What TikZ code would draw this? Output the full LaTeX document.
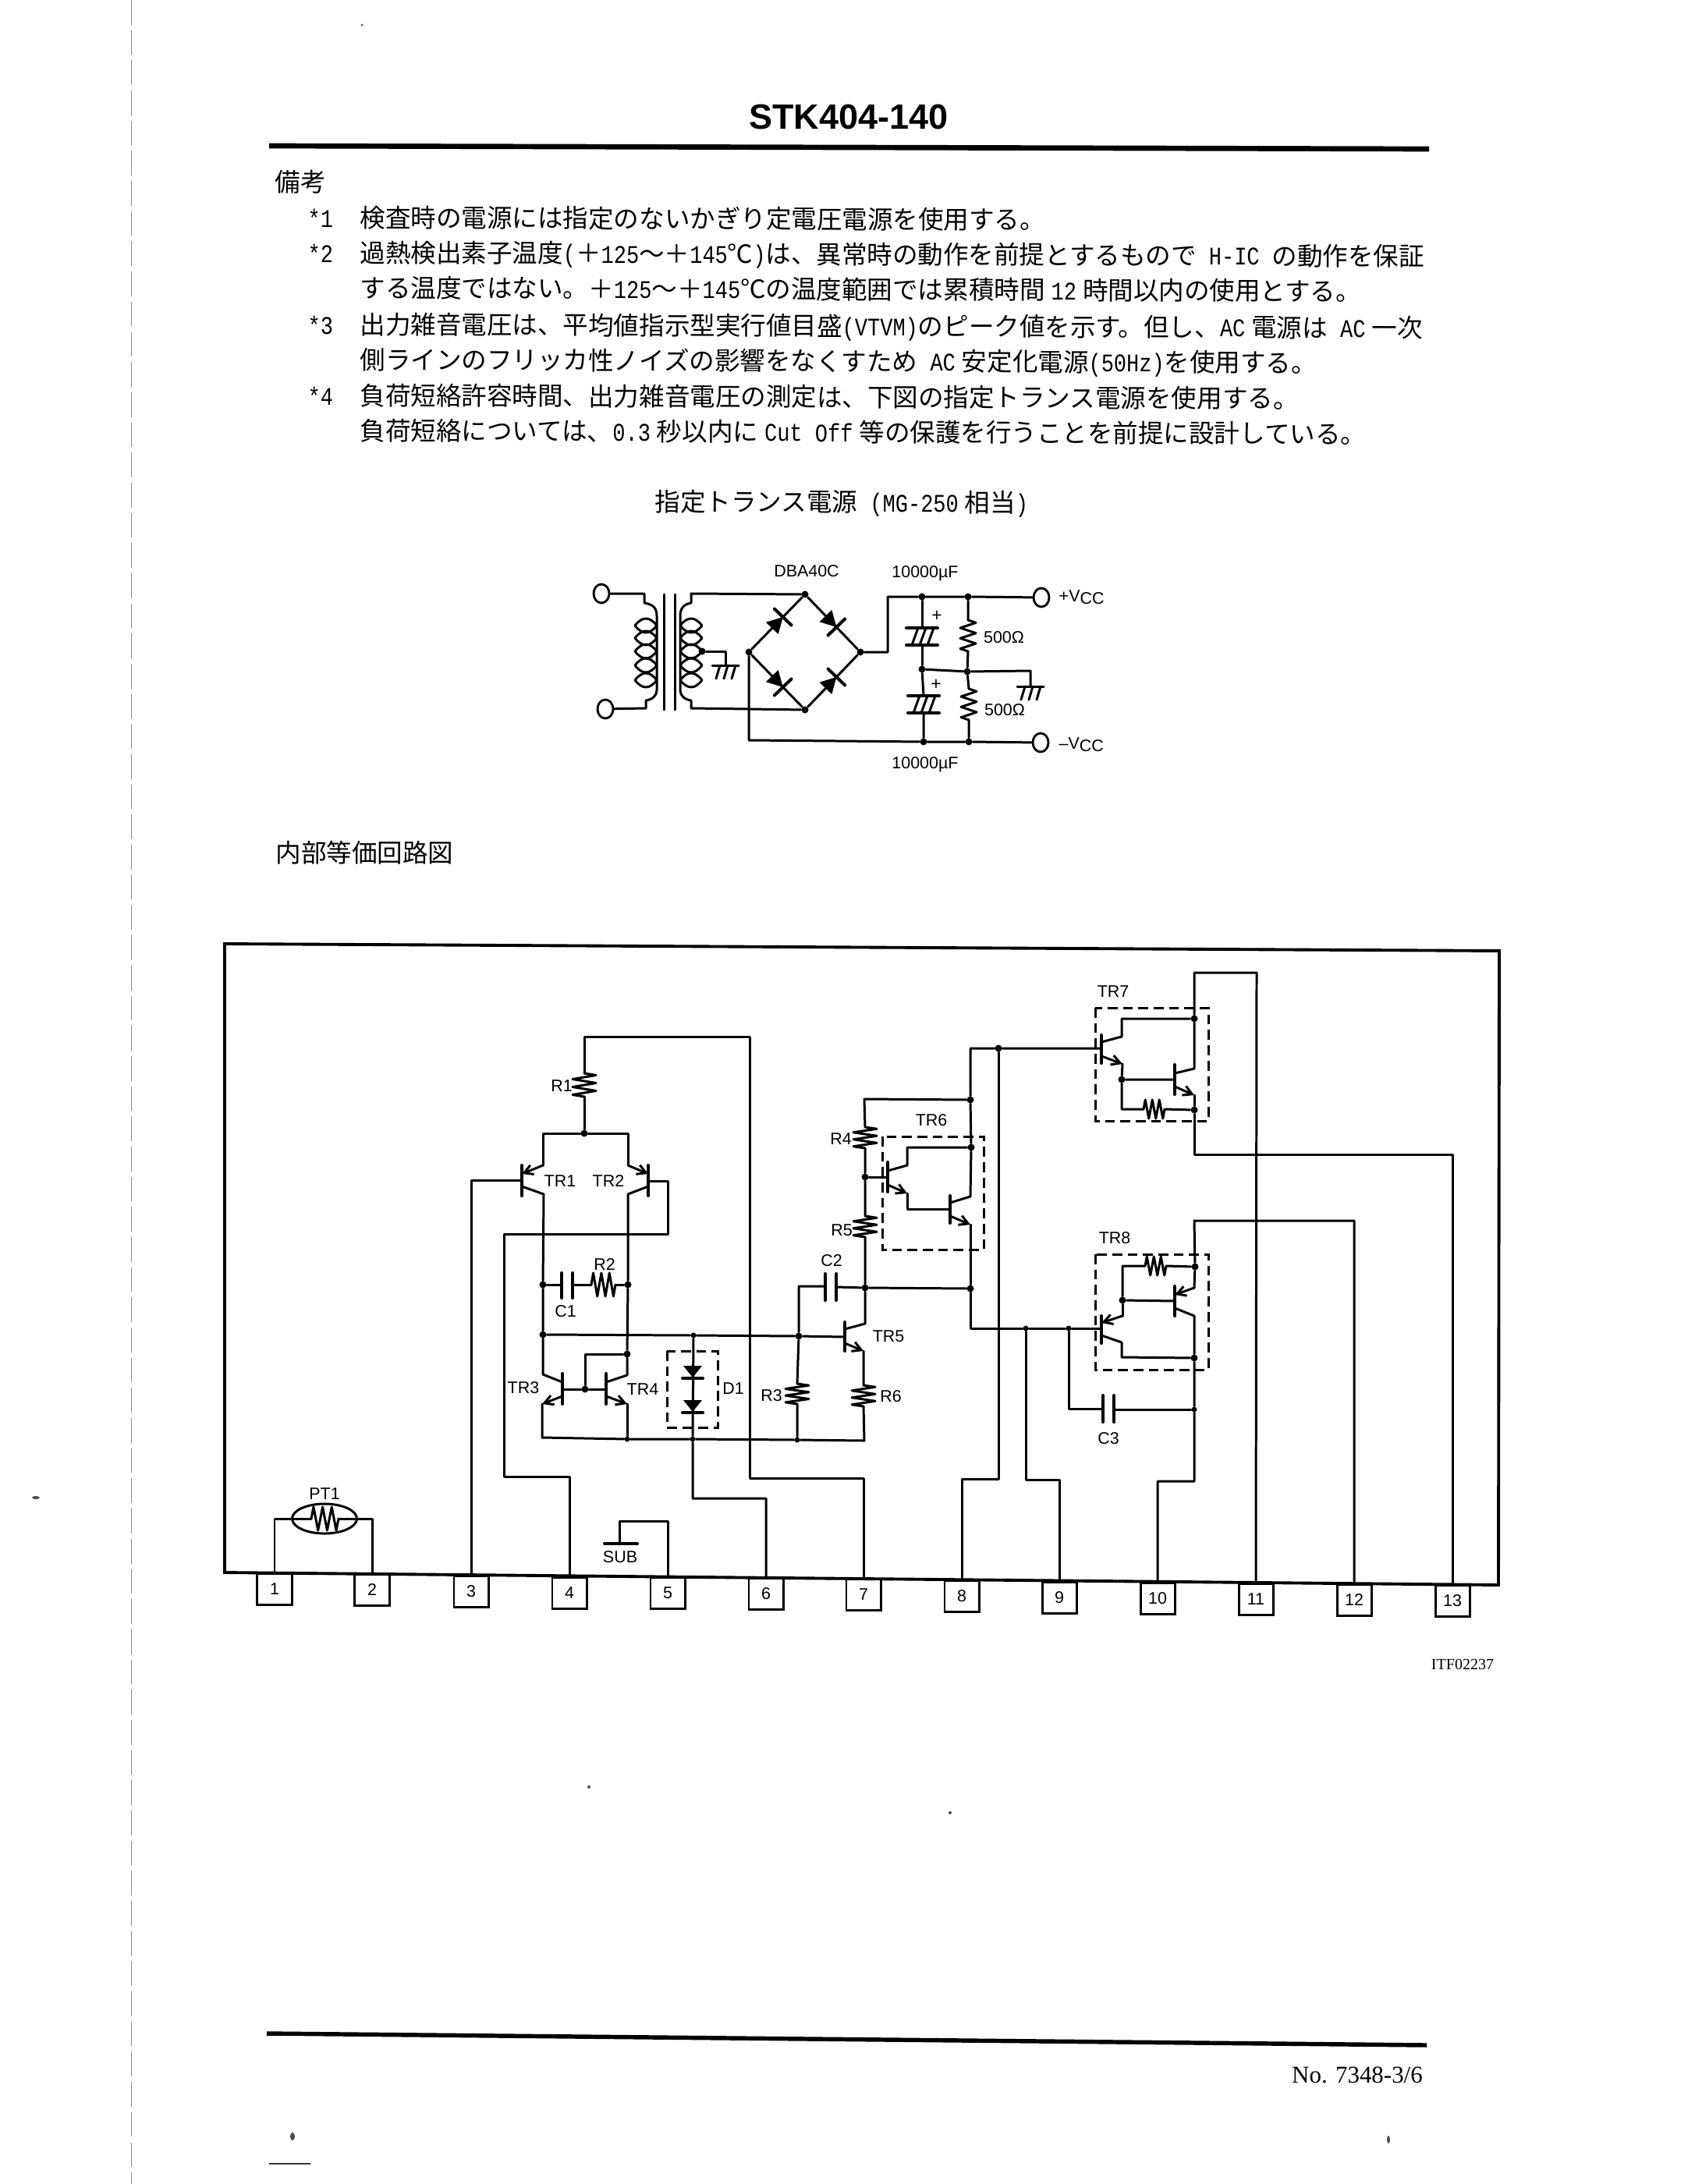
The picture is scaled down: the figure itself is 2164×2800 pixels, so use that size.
\documentclass[tikz,border=0pt]{standalone}
\usepackage{fontspec}
\setmainfont{Liberation Sans}
\newfontfamily\jpf{Noto Sans CJK JP}
\newfontfamily\monof[FakeStretch=0.83]{Liberation Mono}
\newfontfamily\serf{Liberation Serif}
\usetikzlibrary{arrows.meta,shapes.geometric,calc}
\newcommand\ml[1]{{\monof\fontsize{9.25pt}{11pt}\selectfont #1}}
\newcommand\tsp{\hspace{0.08cm}}
\tikzset{
  wire/.style={line width=0.85pt,line cap=round,line join=round},
  barq/.style={line width=1.15pt,line cap=round},
  arr/.style={wire,-{Straight Barb[length=3.2pt,width=3.6pt]}},
  jdot/.style={circle,fill=black,inner sep=0pt,minimum size=0.09cm},
  lab/.style={font=\fontsize{6.1pt}{7pt}\selectfont,inner sep=0pt},
  jl/.style={anchor=base west,inner sep=0pt,rotate=-0.2,font=\jpf\fontsize{9.25pt}{11pt}\selectfont},
  pinbox/.style={draw,line width=0.85pt,minimum width=0.44cm,minimum height=0.40cm,inner sep=0pt,font=\fontsize{6.1pt}{7pt}\selectfont},
  term/.style={draw,ellipse,line width=0.8pt,minimum width=0.2cm,minimum height=0.24cm,inner sep=0pt},
  dashbox/.style={line width=0.85pt,dash pattern=on 3.6pt off 2pt},
  speck/.style={fill=black!70,draw=none}
}
\newcommand\vres[4]{\pgfmathsetmacro\rs{(#3-#2)/12}%
  \draw[wire] (#1,#2) -- ++(#4,\rs) -- ++(-2*#4,2*\rs) -- ++(2*#4,2*\rs) -- ++(-2*#4,2*\rs) -- ++(2*#4,2*\rs) -- ++(-2*#4,2*\rs) -- ++(#4,\rs);}
\newcommand\hres[4]{\pgfmathsetmacro\rs{(#2-#1)/12}%
  \draw[wire] (#1,#3) -- ++(\rs,-#4) -- ++(2*\rs,2*#4) -- ++(2*\rs,-2*#4) -- ++(2*\rs,2*#4) -- ++(2*\rs,-2*#4) -- ++(2*\rs,2*#4) -- ++(\rs,-#4);}
\newcommand\capv[4]{% x1 x2 ycenter halfheight: vertical plates
  \draw[barq] (#1,#3-#4) -- (#1,#3+#4) (#2,#3-#4) -- (#2,#3+#4);}
\newcommand\hcap[3]{% x ytop ybot: hatched electrolytic
  \draw[barq] (#1-20,#2) -- (#1+20,#2) (#1-20,#3) -- (#1+20,#3);
  \draw[wire] (#1-5,#2) -- (#1-13,#3) (#1+5,#2) -- (#1-3,#3) (#1+15,#2) -- (#1+7,#3);}
\newcommand\gnd[2]{% x y
  \draw[wire] (#1-17,#2) -- (#1+17,#2);
  \draw[wire] (#1-7,#2) -- (#1-12,#2+17) (#1+3,#2) -- (#1-2,#2+17) (#1+13,#2) -- (#1+8,#2+17);}
\newcommand\eye[3]{% x1 x2 y
  \draw[wire] (#1,#3) .. controls ({#1+(#2-#1)/3},#3-12) and ({#1+2*(#2-#1)/3},#3-12) .. (#2,#3)
     .. controls ({#1+2*(#2-#1)/3},#3+12) and ({#1+(#2-#1)/3},#3+12) .. (#1,#3);}
\newcommand\bdiode[2]{% point, angle
  \begin{scope}[shift={(#1)},rotate=#2]
    \fill (-11,-11) -- (-11,11) -- (9,0) -- cycle;
    \draw[barq] (9,-15) -- (9,15);
  \end{scope}}
\newcommand\ddiode[3]{% x ytop ybot
  \fill (#1-12,#2) -- (#1+12,#2) -- (#1,#3) -- cycle;
  \draw[barq] (#1-13,#3+1) -- (#1+13,#3+1);}
\begin{document}
\begin{tikzpicture}[x=0.01cm,y=-0.01cm]
\useasboundingbox (0,0) rectangle (2164,2800);
\fill[white] (0,0) rectangle (2164,2800);

% --- scan marks
\draw[black!45,line width=0.25pt,dash pattern=on 9pt off 2pt] (168,0) -- (168,2800);
\fill[speck] (46,1920) ellipse (5 and 2);
\fill[speck] (464,32) circle (1.5);
\fill[speck] (755,2291) circle (2);
\fill[speck] (1218,2324) circle (2);
\fill[speck] (375,2739) ellipse (3 and 5);
\fill[speck] (1780,2743) ellipse (2 and 5);
\draw[black!80,line width=0.6pt] (345,2774) -- (398,2774);

% --- header
\node[inner sep=0pt,font=\bfseries\fontsize{12.8pt}{15pt}\selectfont] (title) at (1088,150) {STK404-140};
\draw[line width=1.9pt] (345,187) -- (1832,191);
\node[jl] (bk) at (352,245) {備考};
\node[jl] (m1) at (394,291) {\ml{*1}};
\node[jl] (l1) at (461,291) {検査時の電源には指定のないかぎり定電圧電源を使用する。};
\node[jl] (m2) at (394,336) {\ml{*2}};
\node[jl] (l2) at (461,336) {過熱検出素子温度\ml{(}＋\ml{125}～＋\ml{145}℃\ml{)}は、異常時の動作を前提とするもので\ml{ H-IC }の動作を保証};
\node[jl] (l3) at (461,381) {する温度ではない。＋\ml{125}～＋\ml{145}℃の温度範囲では累積時間\tsp\ml{12}\tsp 時間以内の使用とする。};
\node[jl] (m3) at (394,428) {\ml{*3}};
\node[jl] (l4) at (461,428) {出力雑音電圧は、平均値指示型実行値目盛\ml{(VTVM)}のピーク値を示す。但し、\ml{AC}\tsp 電源は\ml{ AC}\tsp 一次};
\node[jl] (l5) at (461,473) {側ラインのフリッカ性ノイズの影響をなくすため\ml{ AC}\tsp 安定化電源\ml{(50Hz)}を使用する。};
\node[jl] (m4) at (394,519) {\ml{*4}};
\node[jl] (l6) at (461,519) {負荷短絡許容時間、出力雑音電圧の測定は、下図の指定トランス電源を使用する。};
\node[jl] (l7) at (461,564) {負荷短絡については、\ml{0.3}\tsp 秒以内に\tsp\ml{Cut Off}\tsp 等の保護を行うことを前提に設計している。};
\node[jl] (cap) at (839,655) {指定トランス電源\ml{ (MG-250}\tsp 相当\ml{)}};

% --- transformer supply
\node[term] (tl) at (771,761) {};
\node[term] (tb) at (776,909) {};
\node[term] (vp) at (1335,766) {};
\node[term] (vm) at (1334,952) {};
\node[jdot] (bt) at (1032,762) {};
\node[jdot] (bl) at (960,836) {};
\node[jdot] (br) at (1103,836) {};
\node[jdot] (bb) at (1032,910) {};
\node[jdot] (tap) at (900,835) {};
\node[jdot] (pa) at (1182,765) {};
\node[jdot] (pb) at (1241,765) {};
\node[jdot] (pc) at (1182,858) {};
\node[jdot] (pd) at (1240,861) {};
\node[jdot] (pe) at (1184,951) {};
\node[jdot] (pf) at (1242,951) {};
\draw[wire] (tl) -- (826,761) -- (826,773) .. controls (838,775) and (842,780) .. (842,790) -- (842,885) .. controls (842,892) and (836,897) .. (828,898) -- (828,908) -- (tb);
\draw[wire] (851,762) -- (851,910) (865,762) -- (865,910);
\draw[wire] (bt) -- (886,761) -- (886,773) .. controls (876,775) and (872,780) .. (872,790) -- (872,885) .. controls (872,892) and (878,897) .. (886,898) -- (886,908) -- (bb);
\foreach \yy in {802,818,835,853,872} {\eye{814}{842}{\yy} \eye{872}{900}{\yy}}
\draw[wire] (tap) -- (930,835) -- (930,853);
\gnd{930}{853}
\draw[wire] (bl) -- (bt) -- (br) -- (bb) -- (bl);
\bdiode{$(bl)!0.52!(bt)$}{46}
\bdiode{$(bt)!0.48!(br)$}{-46}
\bdiode{$(bl)!0.52!(bb)$}{-46}
\bdiode{$(bb)!0.48!(br)$}{46}
\draw[wire] (br) -- (1138,836) -- (1138,765) -- (pa) -- (pb) -- (vp);
\draw[wire] (pa) -- (1182,805) (1182,827) -- (pc);
\hcap{1182}{805}{827}
\node[lab,font=\fontsize{6.5pt}{7pt}\selectfont] (pl1) at (1201,790) {+};
\draw[wire] (pb) -- (1241,795) (1241,835) -- (pd);
\vres{1241}{795}{835}{10}
\draw[wire] (pc) -- (pd) -- (1321,860) -- (1321,880);
\gnd{1321}{880}
\draw[wire] (pc) -- (1184,892) (1184,914) -- (pe);
\hcap{1184}{892}{914}
\node[lab,font=\fontsize{6.5pt}{7pt}\selectfont] (pl2) at (1200,878) {+};
\draw[wire] (pd) -- (1242,883) (1242,923) -- (pf);
\vres{1242}{883}{923}{10}
\draw[wire] (bl) -- (960,949) -- (pe) -- (pf) -- (vm);
\node[lab] (dba) at (1034,732) {DBA40C};
\node[lab] (uf1) at (1186,735) {10000µF};
\node[lab] (uf2) at (1186,980) {10000µF};
\node[lab] (o1) at (1287,817) {500Ω};
\node[lab] (o2) at (1288,910) {500Ω};
\node[lab,anchor=west] (vcp) at (1357,766) {+V\raisebox{-0.3ex}{CC}};
\node[lab,anchor=west] (vcm) at (1357,955) {–V\raisebox{-0.3ex}{CC}};

\node[jl] (ic) at (353,1105) {内部等価回路図};

% --- package outline and pins
\draw[line width=1.1pt,line join=miter] (288,1210) -- (1922,1219) -- (1921,2032) -- (288,2016) -- cycle;
\node[pinbox] (p1) at (352,2037) {1};
\node[pinbox] (p2) at (477,2038) {2};
\node[pinbox] (p3) at (604,2040) {3};
\node[pinbox] (p4) at (730,2042) {4};
\node[pinbox] (p5) at (856,2042) {5};
\node[pinbox] (p6) at (982,2043) {6};
\node[pinbox] (p7) at (1107,2044) {7};
\node[pinbox] (p8) at (1233,2046) {8};
\node[pinbox] (p9) at (1358,2048) {9};
\node[pinbox] (p10) at (1484,2049) {10};
\node[pinbox] (p11) at (1610,2050) {11};
\node[pinbox] (p12) at (1736,2051) {12};
\node[pinbox] (p13) at (1862,2052) {13};
\node[inner sep=0pt,font=\serf\fontsize{5.7pt}{7pt}\selectfont] (itf) at (1875,2134) {ITF02237};

% --- PT1
\node[draw,ellipse,line width=0.85pt,minimum width=0.83cm,minimum height=0.38cm,inner sep=0pt] (pt) at (416,1947) {};
\draw[wire] (p1.north) |- (399,1947);
\draw[wire] (434,1947) -| (p2.north);
\hres{399}{434}{1947}{15}
\node[lab] (ptl) at (416,1915) {PT1};

% --- SUB
\draw[wire] (p5.north) |- (794,1950) -- (794,1979);
\draw[barq] (775,1979) -- (817,1979);
\node[lab] (sub) at (795,1996) {SUB};

% --- differential pair
\node[jdot] (n1) at (749,1453) {};
\node[jdot] (ncl) at (696,1647) {};
\node[jdot] (ncr) at (805,1647) {};
\node[jdot] (nb) at (696,1711) {};
\node[jdot,minimum size=0.07cm] (nd1) at (889,1712) {};
\node[jdot] (n3) at (1024,1713) {};
\node[jdot] (n34) at (804,1736) {};
\node[jdot] (nm) at (750,1781) {};
\node[jdot,minimum size=0.07cm] (nb1) at (804,1845) {};
\node[jdot,minimum size=0.07cm] (nb2) at (888,1845) {};
\node[jdot,minimum size=0.07cm] (nb3) at (1022,1846) {};
\draw[wire] (n1) -- (749,1406) (749,1376) -- (749,1329) -- (961,1329) -- (961,1895) -| (p7.north);
\vres{749}{1376}{1406}{15}
\node[lab] (lr1) at (720,1392) {R1};
\draw[wire] (696,1494) -- (696,1453) -- (n1) -- (805,1453) -- (805,1494);
\draw[barq] (669,1494) -- (669,1533) (831,1494) -- (831,1533);
\draw[arr] (696,1494) -- (669,1505);
\draw[arr] (805,1494) -- (831,1505);
\draw[wire] (669,1521) -- (697,1531) -- (ncl) -- (nb);
\draw[wire] (831,1521) -- (805,1531) -- (ncr) -- (n34) -- (804,1763) -- (777,1772);
\draw[wire] (669,1513) -| (p3.north);
\draw[wire] (831,1514) -- (856,1514) -- (856,1582) -- (646,1582) -- (646,1893) -| (p4.north);
\node[lab] (ltr1) at (718,1514) {TR1};
\node[lab] (ltr2) at (780,1514) {TR2};
\draw[wire] (ncl) -- (720,1647) (734,1647) -- (758,1647) (789,1647) -- (ncr);
\capv{720}{734}{1648}{16}
\hres{758}{789}{1647}{15}
\node[lab] (lr2) at (775,1621) {R2};
\node[lab] (lc1) at (725,1681) {C1};
\draw[wire] (nb) -- (nd1) -- (n3) -- (1083,1714);
% TR3 TR4
\draw[wire] (nb) -- (696,1762) -- (721,1772);
\draw[barq] (721,1761) -- (721,1800) (777,1761) -- (777,1800);
\draw[wire] (721,1781) -- (nm) -- (777,1781);
\draw[wire] (nm) -- (750,1736) -- (n34);
\draw[arr] (721,1790) -- (695,1800);
\draw[arr] (777,1790) -- (804,1800);
\draw[wire] (695,1800) -- (695,1843) -- (nb1) -- (nb2) -- (nb3) -- (1108,1847);
\draw[wire] (804,1800) -- (nb1);
\node[lab] (ltr3) at (671,1779) {TR3};
\node[lab] (ltr4) at (824,1781) {TR4};
% D1
\draw[wire] (nd1) -- (nb2) -- (888,1921) -| (p6.north);
\ddiode{888}{1751}{1766}
\ddiode{888}{1795}{1810}
\draw[dashbox] (855,1732) rectangle (920,1830);
\node[lab] (ld1) at (940,1780) {D1};
% R3 C2 TR5 R6
\draw[wire] (n3) -- (1022,1774) (1022,1800) -- (nb3);
\vres{1022}{1774}{1800}{15}
\node[lab] (lr3) at (989,1789) {R3};
\node[jdot] (n5) at (1109,1651) {};
\draw[wire] (n3) -- (1024,1649) -- (1058,1649) (1072,1650) -- (n5);
\capv{1058}{1072}{1650}{17}
\node[lab] (lc2) at (1066,1616) {C2};
\draw[barq] (1083,1695) -- (1083,1732);
\draw[wire] (1083,1704) -- (1109,1697) -- (n5);
\draw[arr] (1083,1722) -- (1107,1732);
\draw[wire] (1107,1732) -- (1107,1776) (1107,1803) -- (1108,1847);
\vres{1107}{1776}{1803}{15}
\node[lab] (ltr5) at (1139,1713) {TR5};
\node[lab] (lr6) at (1142,1790) {R6};
% R4 R5 TR6
\node[jdot] (n6) at (1244,1410) {};
\node[jdot] (n7) at (1109,1509) {};
\node[jdot] (n8) at (1245,1471) {};
\node[jdot] (n9) at (1244,1652) {};
\node[jdot] (n10) at (1280,1344) {};
\draw[wire] (n6) -- (1108,1409) -- (1109,1445) (1109,1472) -- (n7) -- (1109,1559) (1109,1586) -- (n5) -- (n9);
\vres{1109}{1445}{1472}{15}
\vres{1109}{1559}{1586}{15}
\node[lab] (lr4) at (1078,1460) {R4};
\node[lab] (lr5) at (1079,1577) {R5};
\draw[dashbox] (1131,1457) rectangle (1261,1602);
\node[lab] (ltr6) at (1194,1436) {TR6};
\draw[barq] (1138,1490) -- (1138,1528) (1218,1533) -- (1218,1568);
\draw[wire] (n7) -- (1138,1509);
\draw[wire] (1138,1501) -- (1163,1494) -- (1163,1471) -- (n8);
\draw[arr] (1138,1519) -- (1163,1530);
\draw[wire] (1163,1530) -- (1163,1550) -- (1218,1550);
\draw[wire] (1218,1542) -- (1244,1534) -- (n8) -- (n6) -- (1244,1344) -- (n10) -- (1412,1344);
\draw[arr] (1218,1559) -- (1244,1570);
\draw[wire] (1244,1570) -- (n9);
\node[jdot,minimum size=0.07cm] (n11) at (1315,1703) {};
\node[jdot,minimum size=0.07cm] (n12) at (1370,1703) {};
\draw[wire] (n9) -- (1244,1703) -- (n11) -- (n12) -- (1412,1703);
\draw[wire] (n10) -- (1280,1896) -| (p8.north);
\draw[wire] (n11) -- (1315,1897) -| (p9.north);
% C3
\node[jdot,minimum size=0.07cm] (n13) at (1531,1807) {};
\draw[wire] (n12) -- (1370,1806) -- (1414,1806) (1428,1807) -- (n13);
\capv{1414}{1428}{1806}{17}
\node[lab] (lc3) at (1421,1844) {C3};
% TR7
\node[jdot] (a1) at (1531,1306) {};
\node[jdot] (a2) at (1438,1384) {};
\node[jdot] (a3) at (1531,1423) {};
\draw[wire] (p11.north) -- (1611,1247) -- (1531,1247) -- (a1) -- (1531,1370) -- (1506,1376);
\draw[barq] (1412,1327) -- (1412,1363) (1506,1365) -- (1506,1403);
\draw[wire] (1412,1336) -- (1438,1329) -- (1438,1306) -- (a1);
\draw[arr] (1412,1354) -- (1439,1364);
\draw[wire] (1439,1364) -- (a2) -- (1506,1384);
\draw[arr] (1506,1393) -- (1531,1404);
\draw[wire] (1531,1404) -- (a3) -- (1531,1480) -- (1862,1480) -- (p13.north);
\draw[wire] (a2) -- (1438,1422) -- (1466,1422) (1493,1422) -- (a3);
\hres{1466}{1493}{1422}{12}
\draw[dashbox] (1404,1292) rectangle (1549,1437);
\node[lab] (ltr7) at (1427,1271) {TR7};
% TR8
\node[jdot] (b1) at (1532,1624) {};
\node[jdot] (b2) at (1439,1667) {};
\node[jdot] (b3) at (1531,1741) {};
\draw[wire] (p12.north) |- (1531,1565) -- (b1) -- (1531,1651);
\draw[arr] (1531,1651) -- (1506,1660);
\draw[barq] (1506,1649) -- (1506,1687) (1412,1687) -- (1412,1722);
\draw[wire] (b1) -- (1495,1623) (1468,1623) -- (1439,1623) -- (b2) -- (1506,1668);
\hres{1468}{1495}{1623}{12}
\draw[wire] (b2) -- (1439,1687);
\draw[arr] (1439,1687) -- (1412,1696);
\draw[wire] (1412,1712) -- (1438,1721) -- (1438,1740) -- (b3);
\draw[wire] (1506,1677) -- (1531,1687) -- (b3) -- (n13) -- (1531,1899) -| (p10.north);
\draw[dashbox] (1404,1608) rectangle (1549,1756);
\node[lab] (ltr8) at (1429,1587) {TR8};

% --- footer
\draw[line width=1.55pt] (342,2607) -- (1829,2622);
\node[inner sep=0pt,font=\serf\fontsize{8.8pt}{10pt}\selectfont] (no) at (1740,2660) {No. 7348-3/6};
\end{tikzpicture}
\end{document}
